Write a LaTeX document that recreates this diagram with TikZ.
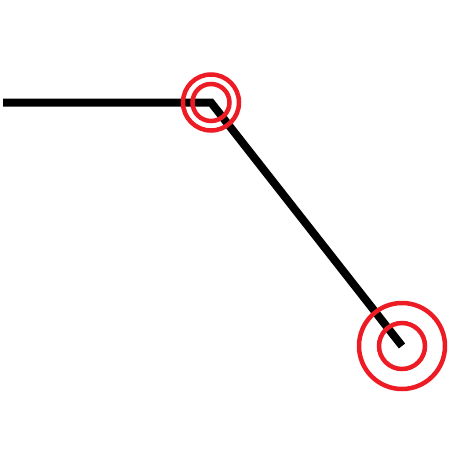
\documentclass[tikz,border=0pt]{standalone}
\usepackage{tikz}
\usepackage{xcolor}
\definecolor{markred}{RGB}{237,28,36}

\begin{document}
\begin{tikzpicture}[
        x=1pt, y=-1pt,
        path/.style={draw=black, line width=8pt, line join=miter},
        ring/.style={circle, draw=markred, line width=4.5pt, inner sep=0pt}
    ]
        \useasboundingbox (0,0) rectangle (450,450);

        \coordinate (start) at (3,102.5);
        \coordinate (bend)  at (211,102.5);
        \coordinate (stop)  at (402,346);

        \draw[path] (start) -- (bend) -- (stop);

        % rings at the bend and at the end point
        \node[ring, minimum size=56pt] (bendouter) at (bend) {};
        \node[ring, minimum size=37pt] (bendinner) at (bend) {};
        \node[ring, minimum size=86pt] (stopouter) at (stop) {};
        \node[ring, minimum size=46pt] (stopinner) at (stop) {};
    \end{tikzpicture}
\end{document}
